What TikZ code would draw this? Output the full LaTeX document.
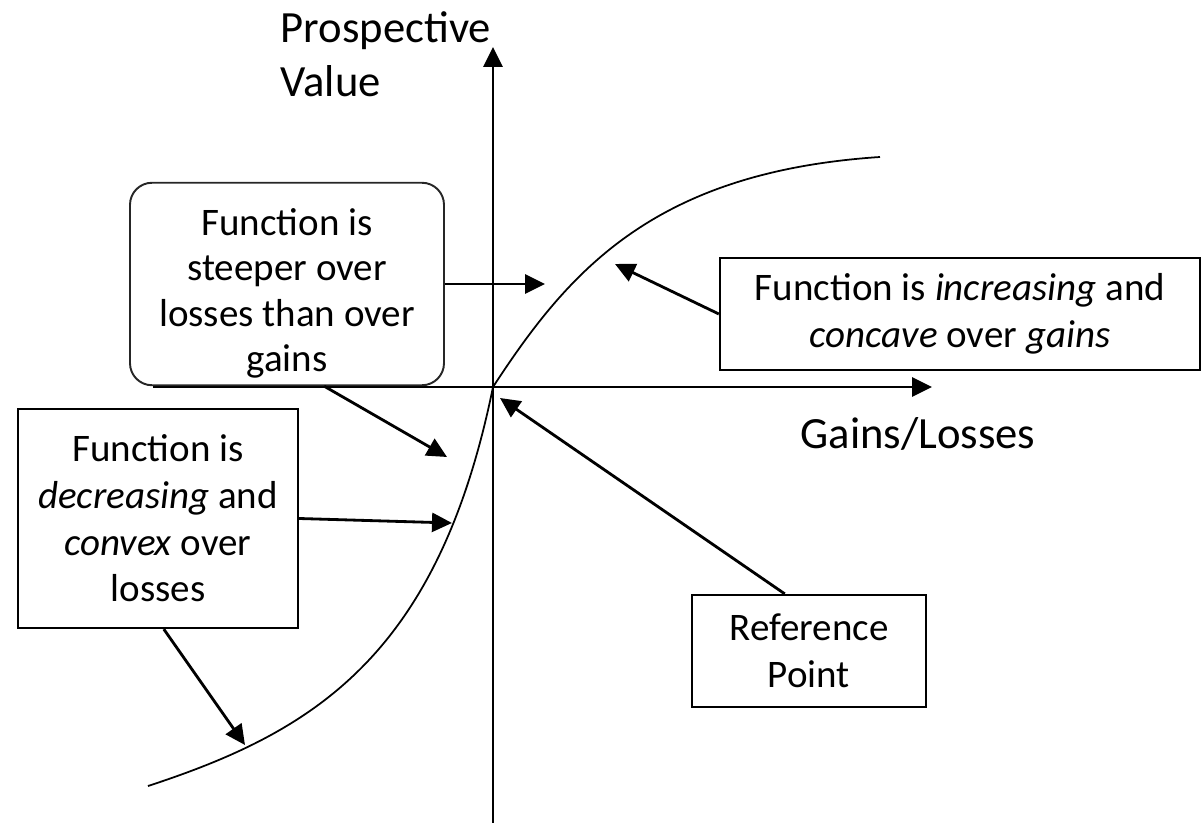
\documentclass[tikz,border=0pt]{standalone}
\usepackage{fontspec}
\setmainfont{Carlito}
\usetikzlibrary{arrows.meta}

\begin{document}
\begin{tikzpicture}[
    % Stili per i box
    infobox/.style={
        rectangle,
        draw=black,
        line width=0.65pt,
        align=center,
        inner sep=2pt,
        font=\fontsize{11.1}{13.3}\selectfont
    },
    roundbox/.style={
        infobox,
        draw=black!85,
        line width=0.55pt,
        rounded corners=0.22cm
    },
    % Stili per le frecce
    arrow/.style={-{Triangle[length=0.2cm, width=0.19cm]}, line width=0.8pt},
    axis/.style={-{Triangle[length=0.2cm, width=0.19cm]}, line width=0.85pt},
    curve/.style={line width=0.5pt},
    % Stili per le etichette
    axislabel/.style={font=\fontsize{12.7}{15.3}\selectfont, align=left, inner sep=0pt}
]
\useasboundingbox (-4.93,-4.36) rectangle (7.08,3.87);

% Assi
\coordinate (y_bottom) at (0,-4.36);
\coordinate (y_top) at (0,3.40);
\coordinate (x_left) at (-3.40,0);
\coordinate (x_right) at (4.39,0);
\draw[axis] (y_bottom) -- (y_top);
\draw[axis] (x_left) -- (x_right);

\node[axislabel, anchor=north west] (y_label) at (-2.13,3.76) {Prospective\\Value};
\node[axislabel, anchor=base] (x_label) at (4.25,-0.61) {Gains/Losses};

% Funzione valore
\coordinate (origin) at (0,0);
\coordinate (loss_end) at (-3.45,-3.99);
\coordinate (gain_end) at (3.87,2.30);
\draw[curve] (loss_end) .. controls (-1.8,-3.45) and (-0.55,-2.7) .. (origin)
    .. controls (0.75,1.15) and (1.6,2.15) .. (gain_end);

% Box informativi
\node[roundbox, minimum width=3.14cm, minimum height=2.02cm,
      font=\fontsize{11.1}{12.9}\selectfont] (steep_box) at (-2.06,1.03)
    {\rule{0pt}{13pt}Function is\\steeper over\\losses than over\\gains};
\node[infobox, minimum width=4.80cm, minimum height=1.12cm] (gain_box) at (4.67,0.73)
    {Function is \textit{increasing} and\\\textit{concave} over \textit{gains}};
\node[infobox, minimum width=2.80cm, minimum height=2.19cm] (loss_box) at (-3.35,-1.315)
    {Function is\\\textit{decreasing} and\\\textit{convex} over\\losses};
\node[infobox, minimum width=2.34cm, minimum height=1.12cm] (ref_box) at (3.16,-2.64)
    {Reference\\Point};

% Punte delle frecce sulla curva
\coordinate (tip_steep) at (0.52,1.03);
\coordinate (tip_steep_loss) at (-0.46,-0.70);
\coordinate (tip_convex) at (-0.41,-1.36);
\coordinate (tip_loss) at (-2.48,-3.58);
\coordinate (tip_concave) at (1.22,1.23);
\coordinate (tip_ref) at (0.07,-0.11);

% Frecce
\draw[arrow] (steep_box.east) -- (tip_steep);
\draw[arrow] (steep_box.-70) -- (tip_steep_loss);
\draw[arrow] (loss_box.east) -- (tip_convex);
\draw[arrow] (loss_box.-87) -- (tip_loss);
\draw[arrow] (gain_box.west) -- (tip_concave);
\draw[arrow] (ref_box.113) -- (tip_ref);

\end{tikzpicture}
\end{document}
